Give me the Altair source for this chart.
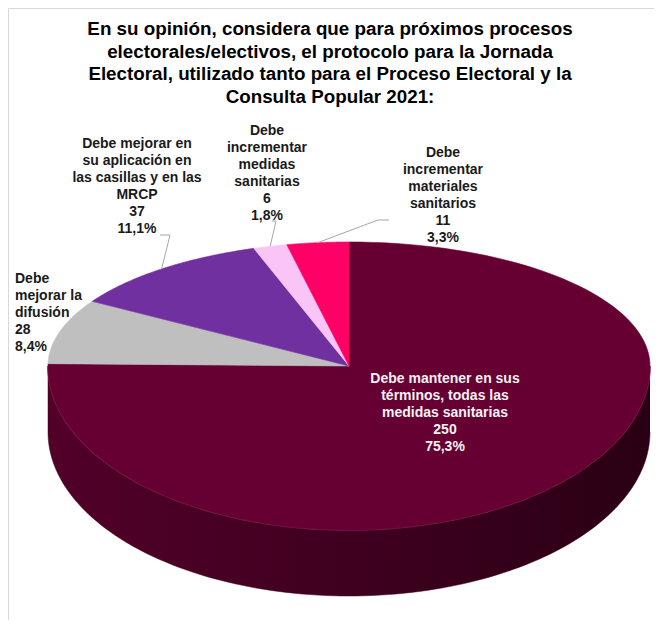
import altair as alt
import pandas as pd

# ---------------- data ----------------
categories = [
    "Debe mantener en sus\ntérminos, todas las\nmedidas sanitarias",
    "Debe\nmejorar la\ndifusión",
    "Debe mejorar en\nsu aplicación en\nlas casillas y en las\nMRCP",
    "Debe\nincrementar\nmedidas\nsanitarias",
    "Debe\nincrementar\nmateriales\nsanitarios",
]
counts = [250, 28, 37, 6, 11]
slice_colors = ["#660033", "#BFBFBF", "#7030A0", "#F9C4F6", "#FF0066"]
title_lines = [
    "En su opinión, considera que para próximos procesos",
    "electorales/electivos, el protocolo para la Jornada",
    "Electoral, utilizado tanto para el Proceso Electoral y la",
    "Consulta Popular 2021:",
]

# ---------------- layout (page pixels) ----------------
CX, CY = 349, 366          # pie apex
RX, RY_TOP, RY_BOT = 301, 124, 164
DEPTH = 66
N = 120
label_x = [445, 15, 137, 267, 443]
label_top = [372, 272, 137, 124, 146]
label_align = ["center", "left", "center", "center", "center"]
label_color = ["#F2F2F2", "#1A1A1A", "#1A1A1A", "#1A1A1A", "#1A1A1A"]
leader_x0 = [None, None, 160, 272, 389]
leader_x1 = [None, None, 170, 276, 378]
leader_y = [None, None, 235, 221, 220]

df = pd.DataFrame({
    "idx": list(range(len(categories))),
    "cat": categories,
    "count": counts,
    "color": slice_colors,
    "lx": label_x,
    "ly": label_top,
    "align": label_align,
    "tcolor": label_color,
    "lx0": leader_x0,
    "lx1": leader_x1,
    "lyy": leader_y,
})

xs = alt.Scale(domain=[8, 654], nice=False, zero=False)
ys = alt.Scale(domain=[8, 620], nice=False, zero=False, reverse=True)
X = alt.X("px:Q", scale=xs, axis=None)
Y = alt.Y("py:Q", scale=ys, axis=None)


def ex(a):
    return f"({CX} + {RX} * sin({a}))"


def ey(a):
    return f"({CY} - (cos({a}) >= 0 ? {RY_TOP} : {RY_BOT}) * cos({a}))"


base = alt.Chart(df).transform_joinaggregate(
    total="sum(count)"
).transform_window(
    cum="sum(count)", sort=[alt.SortField("idx")], frame=[None, 0]
).transform_calculate(
    a0="2*PI*(datum.cum - datum.count)/datum.total",
    a1="2*PI*datum.cum/datum.total",
)

# side wall (visible front half)
side_data = base.transform_calculate(
    s0="clamp(datum.a0, PI/2, 3*PI/2)",
    s1="clamp(datum.a1, PI/2, 3*PI/2)",
).transform_filter(
    "datum.s1 > datum.s0 + 1e-9"
).transform_calculate(
    k=f"sequence(0, {2 * N + 2})"
).transform_flatten(["k"]).transform_calculate(
    ang=f"datum.k <= {N} ? datum.s0 + datum.k/{N}*(datum.s1-datum.s0) : datum.s1 - (datum.k-{N + 1})/{N}*(datum.s1-datum.s0)",
    dep=f"datum.k <= {N} ? 0 : {DEPTH}",
).transform_calculate(
    px=ex("datum.ang"),
    py=ey("datum.ang") + " + datum.dep",
)

side = side_data.mark_line(
    fill={"gradient": "linear", "x1": 0, "x2": 1, "y1": 0, "y2": 0,
          "stops": [{"offset": 0, "color": "#520029"},
                    {"offset": 0.5, "color": "#3f001f"},
                    {"offset": 1, "color": "#2a0014"}]},
    stroke="#3f001f", strokeWidth=0.5,
).encode(x=X, y=Y, order="k:Q", detail="idx:N")

rim = side_data.transform_filter(f"datum.k <= {N}").mark_line(
    stroke="#8c2a5c", strokeWidth=1.6, opacity=0.8
).encode(x=X, y=Y, order="k:Q", detail="idx:N")

# top face slices
top = base.transform_calculate(
    k=f"sequence(0, {N + 3})"
).transform_flatten(["k"]).transform_calculate(
    ang=f"datum.a0 + (datum.k - 1) / {N} * (datum.a1 - datum.a0)",
    ctr=f"datum.k == 0 || datum.k == {N + 2}",
).transform_calculate(
    px=f"datum.ctr ? {CX} : " + ex("datum.ang"),
    py=f"datum.ctr ? {CY} : " + ey("datum.ang"),
).mark_line(strokeWidth=0.6).encode(
    x=X, y=Y, order="k:Q",
    color=alt.Color("color:N", scale=None),
    fill=alt.Fill("color:N", scale=None),
)

# leader lines
lead = base.transform_filter("isValid(datum.lx0)").transform_calculate(
    k="sequence(0, 3)"
).transform_flatten(["k"]).transform_calculate(
    mid="(datum.a0 + datum.a1) / 2"
).transform_calculate(
    px="datum.k == 0 ? datum.lx0 : datum.k == 1 ? datum.lx1 : " + ex("datum.mid"),
    py="datum.k < 2 ? datum.lyy : " + ey("datum.mid"),
).mark_line(stroke="#A6A6A6", strokeWidth=1).encode(
    x=X, y=Y, order="k:Q", detail="idx:N"
)

lab_expr = ("datum.cat + '\\n' + datum.count + '\\n' + "
            "replace(format(datum.count / datum.total, '.1%'), '.', ',')")

text_props = dict(baseline="top", font="Liberation Sans", fontWeight="bold",
                  fontSize=14, lineHeight=17, lineBreak="\n")

labels_c = base.transform_filter("datum.align == 'center'").transform_calculate(
    lab=lab_expr
).mark_text(align="center", **text_props).encode(
    x=alt.X("lx:Q", scale=xs, axis=None),
    y=alt.Y("ly:Q", scale=ys, axis=None),
    text="lab:N",
    color=alt.Color("tcolor:N", scale=None),
)

labels_l = base.transform_filter("datum.align == 'left'").transform_calculate(
    lab=lab_expr
).mark_text(align="left", **text_props).encode(
    x=alt.X("lx:Q", scale=xs, axis=None),
    y=alt.Y("ly:Q", scale=ys, axis=None),
    text="lab:N",
    color=alt.Color("tcolor:N", scale=None),
)

title = alt.Chart(pd.DataFrame({"t": ["\n".join(title_lines)]})).mark_text(
    align="center", baseline="top", font="Liberation Sans", fontWeight="bold",
    fontSize=18.8, lineHeight=22.7, lineBreak="\n", color="#000000"
).encode(x=alt.value(322), y=alt.value(12), text="t:N")

chart = alt.layer(side, rim, top, lead, labels_c, labels_l, title).properties(
    width=646, height=612, padding=0
).configure_view(stroke="#D9D9D9", strokeWidth=1)

chart.save("out.html", embed_options={"renderer": "svg", "actions": False})
